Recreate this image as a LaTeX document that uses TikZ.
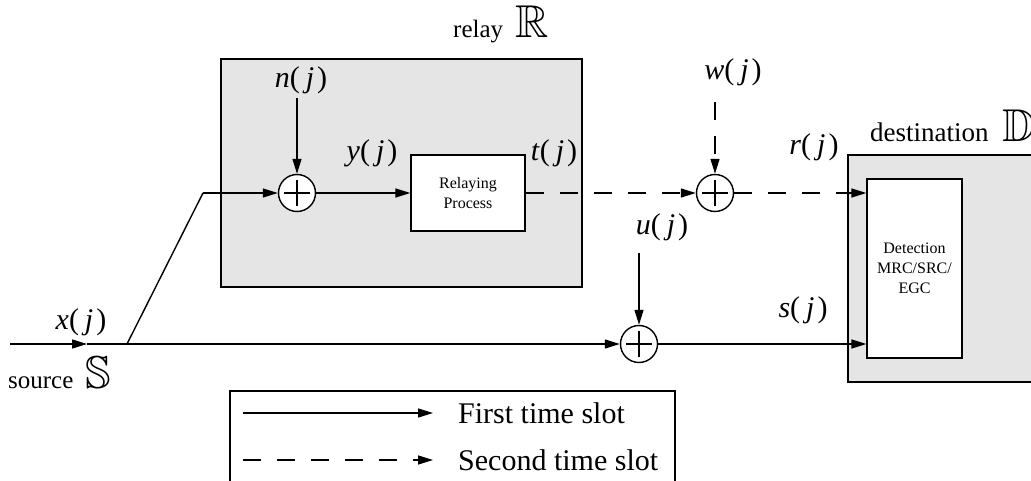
\documentclass[tikz,border=0pt]{standalone}
\usepackage{fontspec}
\setmainfont{Liberation Serif}
\usepackage{amssymb}
\usetikzlibrary{arrows.meta}

% signal label: italic letter, upright parentheses, italic j
\newcommand{\sigl}[1]{\textit{#1}(\kern0.2em\textit{j}\kern0.1em)}
% large double-struck set symbol
\newcommand{\bigset}[1]{{\fontsize{46}{46}\selectfont$\mathbb{#1}$}}

\tikzset{
  conn/.style={line width=1.4pt},
  arr/.style={conn, -{Triangle[length=15pt,width=9pt]}},
  dsh/.style={dash pattern=on 18pt off 16pt},
  sumnode/.style={circle, draw, line width=1.4pt, fill=white,
    minimum size=37pt, inner sep=0pt,
    path picture={
      \draw[line width=1.5pt]
        ([xshift=-13pt]path picture bounding box.center) --
        ([xshift=13pt]path picture bounding box.center)
        ([yshift=-13pt]path picture bounding box.center) --
        ([yshift=13pt]path picture bounding box.center);
    }},
  lbl/.style={font=\fontsize{30}{32}\selectfont, inner sep=0pt},
  blk/.style={draw, line width=1.2pt, fill=white, align=center,
    font=\fontsize{16}{20}\selectfont},
  area/.style={draw, line width=1.2pt, fill=black!10},
  captxt/.style={font=\fontsize{25}{28}\selectfont, inner sep=0pt},
}

\begin{document}
\begin{tikzpicture}[x=1pt, y=-1pt]
\useasboundingbox (0,0) rectangle (1031,481);
\clip (0,0) rectangle (1031,481);

% relay and destination areas
\draw[area] (221,59) rectangle (582,287);
\draw[area] (848,155) rectangle (1100,382);

\node[captxt, anchor=base west] (relaycap) at (453,38)
  {relay\ \ \bigset{R}};
\node[captxt, anchor=base west] (destcap) at (870,142)
  {\fontsize{27}{30}\selectfont destination\ \ \bigset{D}};
\node[captxt, anchor=base west] (srccap) at (8,388)
  {source\ \ \bigset{S}};

% blocks
\node[blk, minimum width=114pt, minimum height=76pt] (relproc) at (468,193)
  {Relaying\\Process};
\node[blk, minimum width=95pt, minimum height=179pt] (det) at (914.5,268.5)
  {Detection\\MRC/SRC/\\EGC};

% adders
\node[sumnode] (sum1) at (297,193) {};
\node[sumnode] (sum2) at (715,193) {};
\node[sumnode] (sum3) at (639,344) {};

% signal labels
\node[lbl] (nl) at (301,80) {\sigl{n}};
\node[lbl] (yl) at (372,153) {\sigl{y}};
\node[lbl] (tl) at (554,153) {\sigl{t}};
\node[lbl] (wl) at (733,72) {\sigl{w}};
\node[lbl] (rl) at (814,147) {\sigl{r}};
\node[lbl] (ul) at (662,227) {\sigl{u}};
\node[lbl] (sl) at (803,310) {\sigl{s}};
\node[lbl] (xl) at (81,322) {\sigl{x}};

% connector end points
\coordinate (src) at (10,344);
\coordinate (xtip) at (87,344);
\coordinate (fork) at (127,344);
\coordinate (bend) at (203,193);
\coordinate (nin) at (297,98);
\coordinate (win) at (715,102);
\coordinate (uin) at (639,253);

% first time slot: direct link and source-to-relay link
\draw[arr] (src) -- (xtip);
\draw[arr] (xtip) -- (sum3.west);
\draw[conn] (fork) -- (bend);
\draw[arr] (bend) -- (sum1.west);
\draw[arr] (nin) -- (sum1.north);
\draw[arr] (sum1.east) -- (relproc.west);
\draw[arr] (uin) -- (sum3.north);
\draw[arr] (sum3.east) -- (sum3.east -| det.west);

% second time slot: relay-to-destination link
\draw[arr, dsh] (relproc.east) -- (sum2.west);
\draw[arr, dsh] (win) -- (sum2.north);
\draw[arr, dsh] (sum2.east) -- (sum2.east -| det.west);

% legend
\draw[line width=1.2pt] (230,391) rectangle (675,520);
\coordinate (la1) at (243,413);
\coordinate (lb1) at (433,413);
\coordinate (la2) at (243,460);
\coordinate (lb2) at (433,460);
\draw[arr] (la1) -- (lb1);
\draw[arr, dsh] (la2) -- (lb2);
\node[lbl, anchor=west] (leg1) at (458,413) {First time slot};
\node[lbl, anchor=west] (leg2) at (458,460) {Second time slot};
\end{tikzpicture}
\end{document}
